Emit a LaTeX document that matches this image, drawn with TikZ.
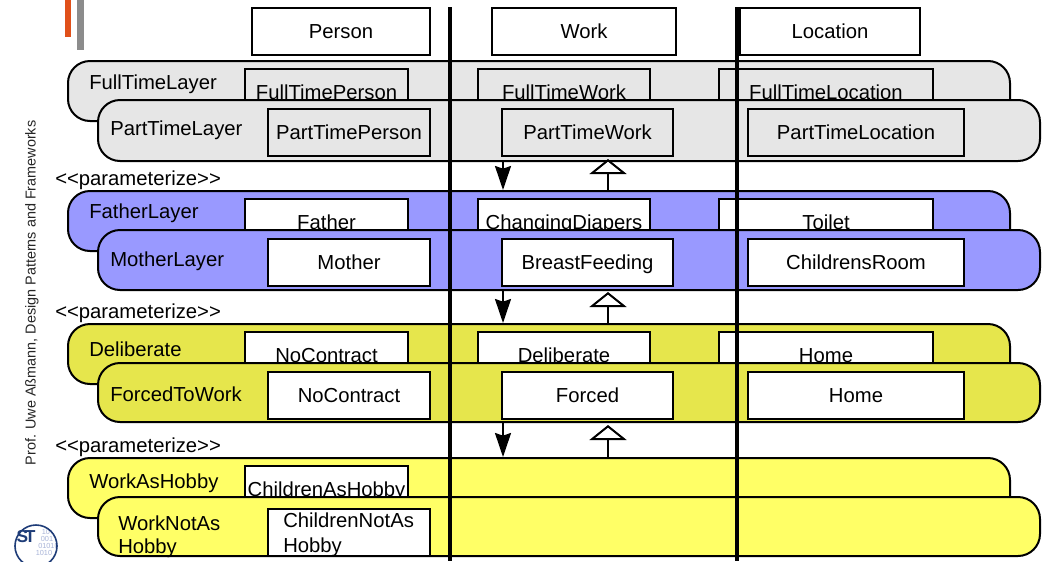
\documentclass[tikz,border=0pt]{standalone}
\usepackage{fontspec}
\setmainfont{Liberation Sans}
\usetikzlibrary{arrows.meta}
\definecolor{laygray}{HTML}{E6E6E6}
\definecolor{layblue}{HTML}{9999FF}
\definecolor{layolive}{HTML}{E6E64C}
\definecolor{layyellow}{HTML}{FFFF66}
\definecolor{accorange}{HTML}{E0501A}
\definecolor{accgray}{HTML}{8C8C8C}
\definecolor{logoblue}{HTML}{1E3C78}
\definecolor{logolight}{HTML}{A8B4D8}
\newcommand\fs{\fontsize{15.2}{18}\selectfont}
% name, x, y (top-left, px), width px, text, fill
\newcommand\mybox[6]{\node[boxnode, fill=#6, minimum width={#4*0.75pt}, minimum height=35.25pt, anchor=north west] (#1) at (#2,#3) {#5};}
\begin{document}
\begin{tikzpicture}[x=0.75pt, y=-0.75pt,
  every node/.style={font=\fs, inner sep=0pt},
  layer/.style={draw=black, line width=1.5pt, rounded corners=16.5pt},
  boxnode/.style={draw=black, line width=1.5pt, text height=10.9pt, text depth=0pt, inner sep=0pt},
  lbl/.style={anchor=base west},
  vline/.style={line width=3pt},
  downarrow/.style={line width=1.5pt, -{Stealth[length=18pt, width=12pt, inset=2pt]}},
  uparrow/.style={line width=1.5pt, -{Triangle[length=11.25pt, width=27.75pt, fill=white]}},
  digit/.style={font=\fontsize{5.5}{6}\selectfont, text=logolight}
]
\useasboundingbox (0,0) rectangle (1046,561);
\fill[white] (0,0) rectangle (1046,561);

% accent bars
\fill[accorange] (65,0) rectangle (71,37);
\fill[accgray] (77,0) rectangle (84,50);

% side text
\node[rotate=90, font=\fontsize{10.8}{13}\selectfont, text=black!85] (side) at (32,293) {Prof. Uwe Aßmann, Design Patterns and Frameworks};

% logo
\begin{scope}
  \clip (36,546) circle[radius=15.75pt];
  \node[digit] (d1) at (46,532) {10};
  \node[digit] (d2) at (47,539) {001};
  \node[digit, anchor=west] (d3) at (38,546) {01010};
  \node[digit] (d4) at (44,553) {1010};
\end{scope}
\draw[logoblue, line width=1.2pt] (36,546) circle[radius=15.75pt];
\node[font=\bfseries\fontsize{13}{13}\selectfont, text=logoblue] (st) at (26,537) {S\kern-2.5pt T};

% top column boxes
\mybox{person}{251}{7}{178}{Person}{white}
\mybox{work}{491}{7}{184}{Work}{white}
\mybox{location}{739}{7}{180}{Location}{white}

% ---- Group A (gray)
\draw[layer, fill=laygray] (68,61) rectangle (1010,121);
\mybox{ftp}{244}{68}{163}{FullTimePerson}{laygray}
\mybox{ftw}{477}{68}{172}{FullTimeWork}{laygray}
\mybox{ftl}{718}{68}{214}{FullTimeLocation}{laygray}
\node[lbl] (ftlay) at (89,89) {FullTimeLayer};
\draw[layer, fill=laygray] (98,100) rectangle (1040,161);
\mybox{ptp}{267}{108}{162}{PartTimePerson}{laygray}
\mybox{ptw}{501}{108}{171}{PartTimeWork}{laygray}
\mybox{ptl}{747}{108}{216}{PartTimeLocation}{laygray}
\node[lbl] (ptlay) at (110,135) {PartTimeLayer};

\node[lbl] (par1) at (55,185) {<{}<parameterize>{}>};

% ---- Group B (blue)
\draw[layer, fill=layblue] (68,191) rectangle (1010,251);
\mybox{father}{244}{198}{163}{Father}{white}
\mybox{diapers}{477}{198}{172}{ChangingDiapers}{white}
\mybox{toilet}{718}{198}{214}{Toilet}{white}
\node[lbl] (falay) at (89,218) {FatherLayer};
\draw[layer, fill=layblue] (98,230) rectangle (1040,290);
\mybox{mother}{267}{238}{162}{Mother}{white}
\mybox{breast}{501}{238}{171}{BreastFeeding}{white}
\mybox{childroom}{747}{238}{216}{ChildrensRoom}{white}
\node[lbl] (molay) at (110,266) {MotherLayer};

\node[lbl] (par2) at (55,318) {<{}<parameterize>{}>};

% ---- Group C (olive)
\draw[layer, fill=layolive] (68,324) rectangle (1010,384);
\mybox{nocon1}{244}{331}{163}{NoContract}{white}
\mybox{delib}{477}{331}{172}{Deliberate}{white}
\mybox{home1}{718}{331}{214}{Home}{white}
\node[lbl] (delay) at (89,356) {Deliberate};
\draw[layer, fill=layolive] (98,363) rectangle (1040,422);
\mybox{nocon2}{267}{371}{162}{NoContract}{white}
\mybox{forced}{501}{371}{171}{Forced}{white}
\mybox{home2}{747}{371}{216}{Home}{white}
\node[lbl] (folay) at (110,401) {ForcedToWork};

\node[lbl] (par3) at (55,452) {<{}<parameterize>{}>};

% ---- Group D (yellow)
\draw[layer, fill=layyellow] (68,458) rectangle (1010,518);
\mybox{cah}{244}{465}{163}{ChildrenAsHobby}{white}
\node[lbl] (wahlay) at (89,488) {WorkAsHobby};
\draw[layer, fill=layyellow] (98,497) rectangle (1040,556);
\mybox{cnah}{267}{508}{162}{}{white}
\node[lbl] (cnaht1) at (283,527) {ChildrenNotAs};
\node[lbl] (cnaht2) at (283,552) {Hobby};
\node[lbl] (wnahlay1) at (118,530) {WorkNotAs};
\node[lbl] (wnahlay2) at (118,553) {Hobby};

% ---- arrows between groups
\coordinate (f1s) at (503,161); \coordinate (f1e) at (503,190);
\coordinate (o1s) at (608,191); \coordinate (o1e) at (608,159);
\coordinate (f2s) at (503,290); \coordinate (f2e) at (503,323);
\coordinate (o2s) at (608,324); \coordinate (o2e) at (608,292);
\coordinate (f3s) at (503,422); \coordinate (f3e) at (503,457);
\coordinate (o3s) at (608,458); \coordinate (o3e) at (608,425);
\draw[downarrow] (f1s) -- (f1e);
\draw[uparrow] (o1s) -- (o1e);
\draw[downarrow] (f2s) -- (f2e);
\draw[uparrow] (o2s) -- (o2e);
\draw[downarrow] (f3s) -- (f3e);
\draw[uparrow] (o3s) -- (o3e);

% ---- vertical separators
\coordinate (v1t) at (450,7); \coordinate (v1b) at (450,561);
\coordinate (v2t) at (736.5,7); \coordinate (v2b) at (736.5,561);
\draw[vline] (v1t) -- (v1b);
\draw[vline] (v2t) -- (v2b);
\end{tikzpicture}
\end{document}
